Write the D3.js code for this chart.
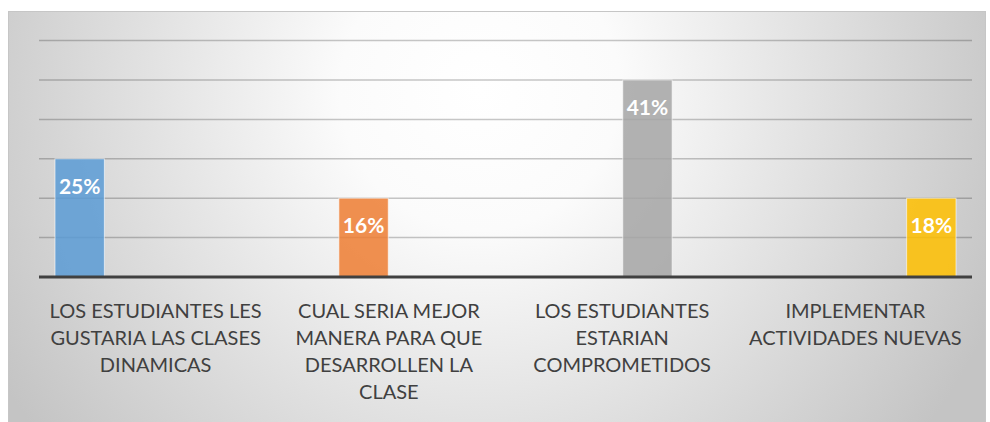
<!DOCTYPE html>
<html>
<head>
<meta charset="utf-8">
<script src="https://cdn.jsdelivr.net/npm/d3@7"></script>
<style>
  html, body { margin: 0; padding: 0; background: #fff; }
  svg { display: block; }
</style>
</head>
<body>
<div id="chart"></div>
<script>
// Categories (line breaks as in the original wrapped labels)
const categories = [
  'LOS ESTUDIANTES LES\nGUSTARIA LAS CLASES\nDINAMICAS',
  'CUAL SERIA MEJOR\nMANERA PARA QUE\nDESARROLLEN LA\nCLASE',
  'LOS ESTUDIANTES\nESTARIAN\nCOMPROMETIDOS',
  'IMPLEMENTAR\nACTIVIDADES NUEVAS',
];
const values = [3, 2, 5, 2];
const valueLabels = ['25%', '16%', '41%', '18%'];
const colors = ['#5b9bd5', '#ed7d31', '#a5a5a5', '#ffc000'];
const yTicks = [0, 1, 2, 3, 4, 5, 6];

const W = 990, H = 422;
const plot = { left: 39, right: 972, top: 40.6, bottom: 277 };

const svg = d3.select('#chart').append('svg')
  .attr('width', W).attr('height', H);

// Chart-area background: soft radial gradient, white centre to grey edges
const defs = svg.append('defs');
const grad = defs.append('radialGradient')
  .attr('id', 'bg')
  .attr('gradientUnits', 'userSpaceOnUse')
  .attr('cx', 480).attr('cy', 90).attr('r', 560);
grad.append('stop').attr('offset', 0).attr('stop-color', '#ffffff');
grad.append('stop').attr('offset', 0.25).attr('stop-color', '#fbfbfb');
grad.append('stop').attr('offset', 1).attr('stop-color', '#c4c4c4');

svg.append('rect')
  .attr('x', 8.5).attr('y', 11.5)
  .attr('width', 977).attr('height', 420)
  .attr('fill', 'url(#bg)')
  .attr('stroke', '#c6c6c6')
  .attr('stroke-width', 1);

const x = d3.scaleBand()
  .domain(d3.range(categories.length))
  .range([plot.left, plot.right])
  .padding(0);

const bandPad = 16;
const xInner = d3.scaleBand()
  .domain(d3.range(values.length))
  .range([bandPad, x.bandwidth() - bandPad])
  .paddingInner(0.025);

const y = d3.scaleLinear()
  .domain([0, 6])
  .range([plot.bottom, plot.top]);

// Gridlines
svg.append('g')
  .selectAll('line')
  .data(yTicks.slice(1))
  .enter()
  .append('line')
  .attr('x1', plot.left).attr('x2', plot.right)
  .attr('y1', (d) => y(d)).attr('y2', (d) => y(d))
  .attr('stroke', 'rgba(0,0,0,0.22)')
  .attr('stroke-width', 1.5);

// Bars: each series sits in its own slot of its own category
const bars = svg.append('g');
bars.selectAll('rect')
  .data(values)
  .enter()
  .append('rect')
  .attr('x', (d, i) => x(i) + xInner(i))
  .attr('y', (d) => y(d))
  .attr('width', xInner.bandwidth())
  .attr('height', (d) => y(0) - y(d))
  .attr('fill', (d, i) => colors[i])
  .attr('fill-opacity', 0.85)
  .attr('stroke', 'rgba(255,255,255,0.6)')
  .attr('stroke-width', 1);

// Data labels, inside end
svg.append('g')
  .selectAll('text')
  .data(values)
  .enter()
  .append('text')
  .attr('x', (d, i) => x(i) + xInner(i) + xInner.bandwidth() / 2)
  .attr('y', (d) => y(d) + 35)
  .attr('text-anchor', 'middle')
  .attr('font-family', 'Lato, "Open Sans", sans-serif')
  .attr('font-weight', 700)
  .attr('font-size', 21)
  .attr('fill', '#ffffff')
  .text((d, i) => valueLabels[i]);

// Category axis
const xAxis = d3.axisBottom(x)
  .tickSize(0)
  .tickFormat((i) => categories[i]);

svg.append('g')
  .attr('transform', `translate(0,${plot.bottom})`)
  .call(xAxis)
  .call((sel) => {
    sel.select('.domain').remove();
    sel.selectAll('.tick text').each(function (i) {
      const t = d3.select(this);
      const lines = categories[i].split('\n');
      t.text(null)
        .attr('y', 0)
        .attr('dy', null)
        .attr('fill', '#404040')
        .attr('font-family', 'Lato, "Open Sans", sans-serif')
        .attr('font-size', 20);
      lines.forEach((ln, k) => {
        t.append('tspan')
          .attr('x', 0)
          .attr('y', 40.5 + k * 27)
          .text(ln);
      });
    });
  });

// Axis line
svg.append('line')
  .attr('x1', plot.left).attr('x2', plot.right)
  .attr('y1', y(0)).attr('y2', y(0))
  .attr('stroke', '#404040')
  .attr('stroke-width', 3);
</script>
</body>
</html>
